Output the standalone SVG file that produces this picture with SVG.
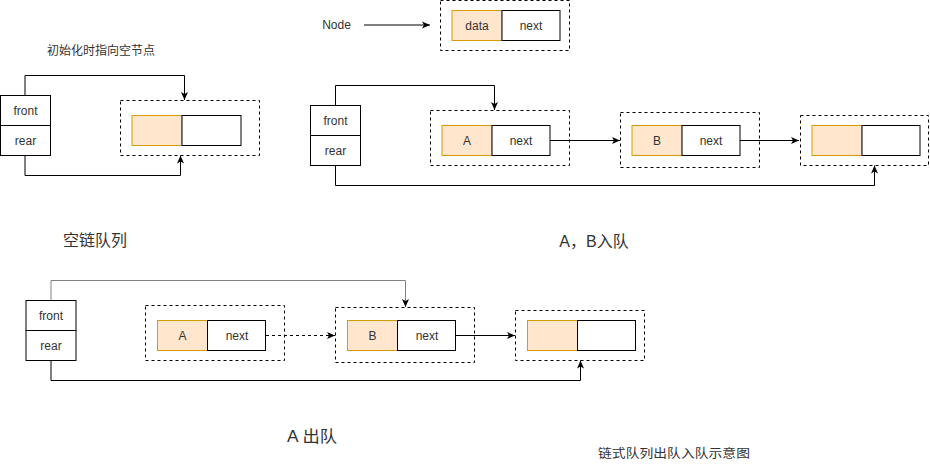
<svg xmlns="http://www.w3.org/2000/svg" width="930" height="471" viewBox="0 0 930 471">
<defs>
<style>
.t{font-family:"Liberation Sans","Noto Sans CJK SC",sans-serif;font-size:12px;fill:#333;text-anchor:middle}
.big{font-size:16px}
.box{fill:#fff;stroke:#000;stroke-width:1}
.data{fill:#ffe6cc;stroke:#d79b00;stroke-width:1}
.cont{fill:none;stroke:#000;stroke-width:1;stroke-dasharray:3 3}
.ln{fill:none;stroke:#000;stroke-width:1;marker-end:url(#ah)}
</style>
<marker id="ah" markerUnits="userSpaceOnUse" markerWidth="10" markerHeight="10" refX="9" refY="5" orient="auto">
<path d="M1,1.5 L9,5 L1,8.5 L3,5 Z" fill="#000"/>
</marker>
</defs>
<rect width="930" height="471" fill="#fff"/>

<g id="labels">
<text class="t" x="101" y="55">初始化时指向空节点</text>
<text class="t big" x="95" y="246">空链队列</text>
<text class="t big" x="594" y="247">A，B入队</text>
<text class="t big" x="312" y="442" textLength="50" lengthAdjust="spacingAndGlyphs">A 出队</text>
<text class="t" x="674" y="458" textLength="152" lengthAdjust="spacingAndGlyphs">链式队列出队入队示意图</text>
<text class="t" x="336.5" y="29">Node</text>
</g>

<g id="connectors">
<path class="ln" d="M364,25 L430,25"/>
<path class="ln" d="M25,95.5 V75.5 H184.5 V100"/>
<path class="ln" d="M25,155.5 V175.5 H180.5 V155.5"/>
<path class="ln" d="M335.5,105 V85.5 H494.5 V110"/>
<path class="ln" d="M335.5,165 V185.5 H874.5 V165.5"/>
<path class="ln" d="M550,140.5 H620"/>
<path class="ln" d="M740,140.5 H799"/>
<path class="ln" style="stroke:#808080" d="M51,300 V280.5 H405.5 V307"/>
<path class="ln" d="M51,360 V380.5 H580.5 V360.5"/>
<path class="ln" style="stroke-dasharray:3 3" d="M266,335.5 H335"/>
<path class="ln" d="M456,335.5 H515"/>
</g>

<g id="queue1">
<rect class="box" x="0.5" y="95.5" width="50" height="30"/>
<rect class="box" x="0.5" y="125.5" width="50" height="30"/>
<text class="t" x="25.5" y="115">front</text>
<text class="t" x="25.5" y="145">rear</text>
</g>
<g id="empty1">
<rect class="cont" x="120.5" y="100.5" width="139" height="55"/>
<rect class="data" x="132" y="115.5" width="50" height="30"/>
<rect class="box" x="182" y="115.5" width="59" height="30"/>
</g>

<g id="nodeDef">
<rect class="cont" x="440.5" y="0.5" width="129" height="50"/>
<rect class="data" x="452" y="10.5" width="50" height="30"/>
<rect class="box" x="502" y="10.5" width="58" height="30"/>
<text class="t" x="477" y="30">data</text>
<text class="t" x="531" y="30">next</text>
</g>

<g id="queue2">
<rect class="box" x="310.5" y="105.5" width="50" height="30"/>
<rect class="box" x="310.5" y="135.5" width="50" height="30"/>
<text class="t" x="335.5" y="125">front</text>
<text class="t" x="335.5" y="155">rear</text>
</g>
<g id="nodeA2">
<rect class="cont" x="430.5" y="110.5" width="139" height="55"/>
<rect class="data" x="442" y="125.5" width="50" height="30"/>
<rect class="box" x="492" y="125.5" width="58" height="30"/>
<text class="t" x="467" y="145">A</text>
<text class="t" x="521" y="145">next</text>
</g>
<g id="nodeB2">
<rect class="cont" x="620.5" y="112.5" width="139" height="55"/>
<rect class="data" x="632" y="125.5" width="50" height="30"/>
<rect class="box" x="682" y="125.5" width="58" height="30"/>
<text class="t" x="657" y="145">B</text>
<text class="t" x="711" y="145">next</text>
</g>
<g id="empty2">
<rect class="cont" x="800.5" y="115.5" width="128" height="50"/>
<rect class="data" x="812" y="125.5" width="50" height="30"/>
<rect class="box" x="862" y="125.5" width="58" height="30"/>
</g>

<g id="queue3">
<rect class="box" x="26" y="300.5" width="50" height="30"/>
<rect class="box" x="26" y="330.5" width="50" height="30"/>
<text class="t" x="51" y="320">front</text>
<text class="t" x="51" y="350">rear</text>
</g>
<g id="nodeA3">
<rect class="cont" x="145.5" y="305.5" width="139" height="55"/>
<rect class="data" x="157.5" y="320.5" width="50" height="30"/>
<rect class="box" x="207.5" y="320.5" width="58" height="30"/>
<text class="t" x="182.5" y="340">A</text>
<text class="t" x="237" y="340">next</text>
</g>
<g id="nodeB3">
<rect class="cont" x="335.5" y="307.5" width="139" height="55"/>
<rect class="data" x="347.5" y="320.5" width="50" height="30"/>
<rect class="box" x="397.5" y="320.5" width="58" height="30"/>
<text class="t" x="372.5" y="340">B</text>
<text class="t" x="427" y="340">next</text>
</g>
<g id="empty3">
<rect class="cont" x="515.5" y="310.5" width="129" height="50"/>
<rect class="data" x="527.5" y="320.5" width="50" height="30"/>
<rect class="box" x="577.5" y="320.5" width="58" height="30"/>
</g>
</svg>
